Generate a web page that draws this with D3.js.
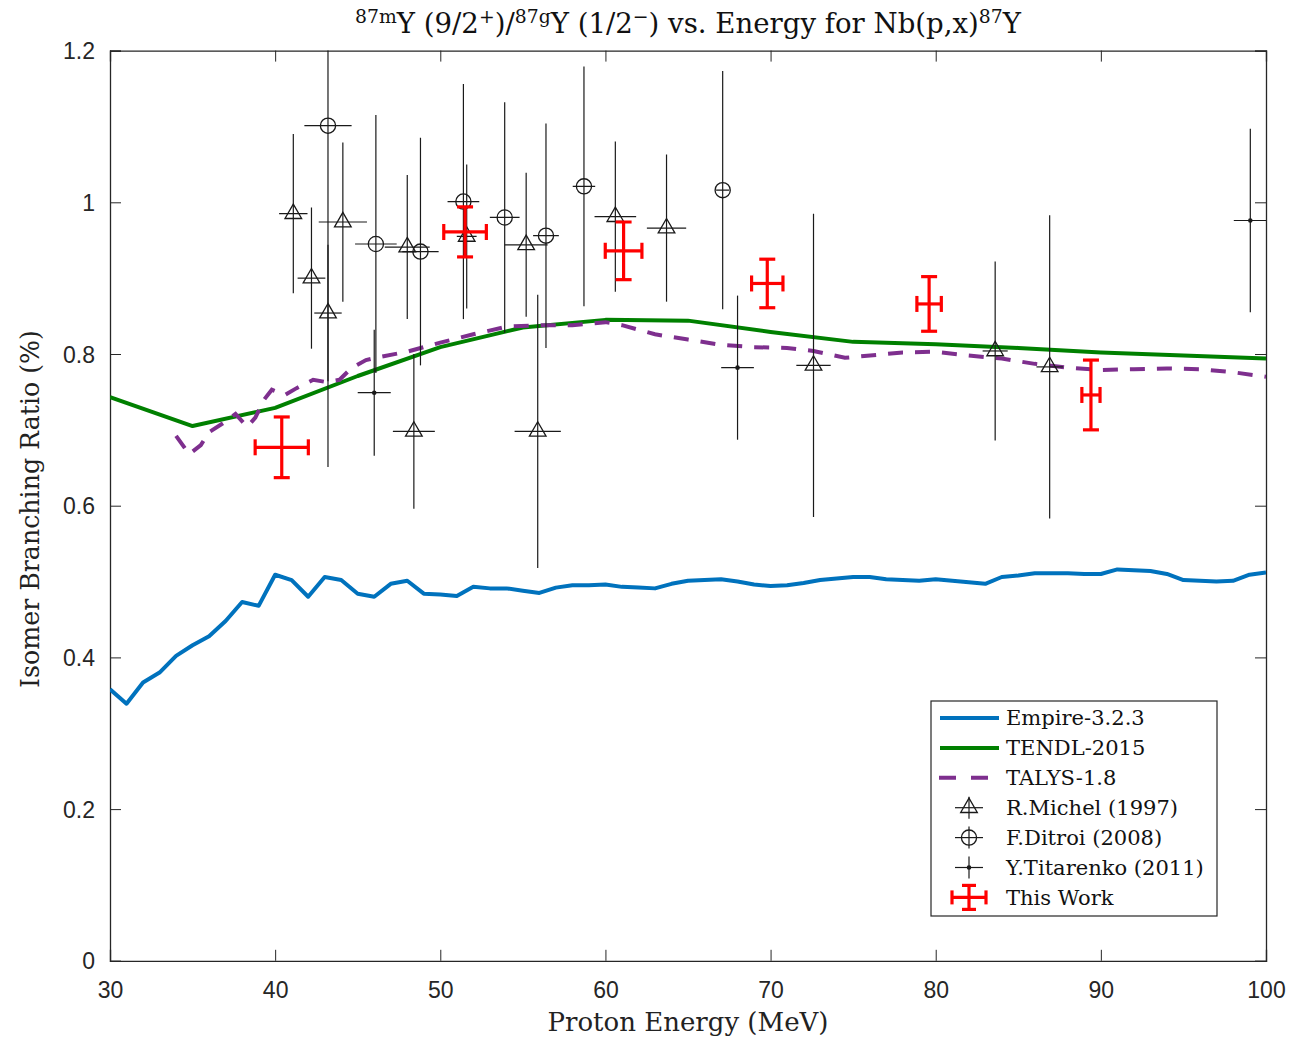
<!DOCTYPE html>
<html><head><meta charset="utf-8">
<script src="https://cdn.jsdelivr.net/npm/d3@7"></script>
<style>body{margin:0;background:#fff}</style>
</head><body>
<svg id="chart" width="1289" height="1040"></svg>
<script>
// ---- data ----
const empireE = d3.range(30, 101, 1);
const empireR = [0.358,0.339,0.367,0.380,0.402,0.416,0.428,0.448,0.473,0.468,
  0.509,0.502,0.480,0.506,0.502,0.484,0.480,0.497,0.501,0.484,
  0.483,0.481,0.493,0.491,0.491,0.488,0.485,0.492,0.495,0.495,
  0.496,0.493,0.492,0.491,0.497,0.501,0.502,0.503,0.500,0.496,
  0.494,0.495,0.498,0.502,0.504,0.506,0.506,0.503,0.502,0.501,
  0.503,0.501,0.499,0.497,0.506,0.508,0.511,0.511,0.511,0.510,
  0.510,0.516,0.515,0.514,0.510,0.502,0.501,0.500,0.501,0.509,0.512];

const tendlE = [30,35,40,45,50,55,60,65,70,75,80,85,90,95,100];
const tendlR = [0.743,0.705,0.729,0.771,0.809,0.835,0.845,0.844,0.829,0.816,0.813,0.808,0.802,0.798,0.794];

const talysE = [34,34.8,35.5,36,37,37.6,38.3,38.8,39.3,39.8,40.6,41.3,42.3,43.1,43.9,44.6,45.5,46.3,48,50,52,54,56,58,60,61,63,65,67,69,71,72.6,74.5,76.5,78,80,82,84,86,88,90,92,94,96,98,100];
const talysR = [0.692,0.668,0.680,0.697,0.711,0.721,0.704,0.716,0.739,0.753,0.746,0.755,0.766,0.763,0.766,0.781,0.792,0.796,0.803,0.815,0.826,0.836,0.838,0.838,0.842,0.838,0.826,0.819,0.812,0.809,0.808,0.804,0.795,0.799,0.802,0.803,0.798,0.794,0.787,0.782,0.779,0.780,0.781,0.780,0.776,0.770];

const michelE  = [41.1,42.2,43.2,44.1,48.0,48.4,51.6,55.2,55.9,60.6,63.7,72.6,83.6,86.9];
const michelR  = [0.985,0.900,0.854,0.974,0.941,0.698,0.955,0.944,0.698,0.981,0.966,0.785,0.804,0.783];
const michelDR = [0.105,0.093,0.090,0.105,0.095,0.102,0.095,0.095,0.180,0.099,0.097,0.200,0.118,0.200];
const michelDE = [0.86,0.84,0.83,1.46,1.36,1.27,0.60,1.30,1.40,1.26,1.19,1.04,0.76,0.80];

const ditroiE  = [43.2,46.1,48.8,51.4,53.9,56.4,58.7,67.1];
const ditroiR  = [1.101,0.945,0.935,1.001,0.980,0.956,1.021,1.016];
const ditroiDR = [0.450,0.170,0.150,0.155,0.152,0.148,0.158,0.157];
const ditroiDE = [1.43,1.26,1.10,0.96,0.90,0.78,0.68,0.40];

const titarE  = [46.0,68.0,99.05];
const titarR  = [0.749,0.782,0.976];
const titarDR = [0.083,0.095,0.121];
const titarDE = [1.0,0.99,1.0];

const workE  = [40.4,51.5,61.1,69.8,79.6,89.4];
const workR  = [0.677,0.961,0.936,0.893,0.866,0.746];
const workDR = [0.040,0.033,0.038,0.032,0.036,0.046];
const workDE = [1.61,1.29,1.11,0.95,0.74,0.55];

const xTicks = [30,40,50,60,70,80,90,100];
const yTicks = [0,0.2,0.4,0.6,0.8,1,1.2];
const legendLabels = ["Empire-3.2.3","TENDL-2015","TALYS-1.8","R.Michel (1997)","F.Ditroi (2008)","Y.Titarenko (2011)","This Work"];

// ---- layout ----
const svg = d3.select("#chart");
const L = 110, R = 1266, T = 50.6, B = 960.8;
const x = d3.scaleLinear().domain([30,100]).range([L,R]);
const y = d3.scaleLinear().domain([0,1.2]).range([B,T]);
const serif = "'DejaVu Serif', 'Liberation Serif', serif";
const sans = "'Liberation Sans', Arial, sans-serif";
const C = {blue:"#0072BD", green:"#008000", purple:"#7E2F8E", red:"#FF0000", black:"#1a1a1a"};

// scale a text's font size so its rendered width matches a target width
function fit(sel, target){
  const n = sel.node();
  const w = n.getBBox().width;
  const fs = parseFloat(sel.attr("font-size"));
  sel.attr("font-size", fs*target/w);
  sel.selectAll("tspan").each(function(){
    const t = d3.select(this); const f = t.attr("font-size");
    if (f) t.attr("font-size", parseFloat(f)*target/w);
  });
}

svg.append("defs").append("clipPath").attr("id","clip")
  .append("rect").attr("x",L).attr("y",T).attr("width",R-L).attr("height",B-T);

// axes with inward ticks
const axCol = "#262626";
const gB = svg.append("g").attr("transform",`translate(0,${B})`)
  .call(d3.axisBottom(x).tickValues(xTicks).tickSize(-11).tickPadding(21).tickFormat(d3.format("d")));
const gT = svg.append("g").attr("transform",`translate(0,${T})`)
  .call(d3.axisTop(x).tickValues(xTicks).tickSize(-11).tickFormat(""));
const gL = svg.append("g").attr("transform",`translate(${L},0)`)
  .call(d3.axisLeft(y).tickValues(yTicks).tickSize(-11).tickPadding(15).tickFormat(d => d===0?"0":(d===1?"1":d3.format(".1f")(d))));
const gR = svg.append("g").attr("transform",`translate(${R},0)`)
  .call(d3.axisRight(y).tickValues(yTicks).tickSize(-11).tickFormat(""));
[gB,gT,gL,gR].forEach(g=>{
  g.select(".domain").attr("stroke",axCol).attr("stroke-width",1.3);
  g.selectAll(".tick line").attr("stroke",axCol).attr("stroke-width",1);
  g.selectAll("text").attr("font-family",sans).attr("font-size",23).attr("fill","#262626");
});
gL.selectAll("text").attr("dy","0.35em");

const plot = svg.append("g").attr("clip-path","url(#clip)");

// model lines
const line = (E,Rr) => d3.line().x((d,i)=>x(E[i])).y((d,i)=>y(Rr[i]))(E);
plot.append("path").attr("d",line(empireE,empireR)).attr("fill","none").attr("stroke",C.blue).attr("stroke-width",4).attr("stroke-linejoin","round");
plot.append("path").attr("d",line(tendlE,tendlR)).attr("fill","none").attr("stroke",C.green).attr("stroke-width",4).attr("stroke-linejoin","round");
plot.append("path").attr("d",line(talysE,talysR)).attr("fill","none").attr("stroke",C.purple).attr("stroke-width",4).attr("stroke-dasharray","15,12");

// black error bars
function blackBars(E,Rr,DR,DE){
  const g = plot.append("g").attr("stroke",C.black).attr("stroke-width",1.2);
  E.forEach((e,i)=>{
    g.append("line").attr("x1",x(e)).attr("x2",x(e)).attr("y1",y(Rr[i]-DR[i])).attr("y2",y(Rr[i]+DR[i]));
    g.append("line").attr("x1",x(e-DE[i])).attr("x2",x(e+DE[i])).attr("y1",y(Rr[i])).attr("y2",y(Rr[i]));
  });
}
blackBars(michelE,michelR,michelDR,michelDE);
blackBars(ditroiE,ditroiR,ditroiDR,ditroiDE);
blackBars(titarE,titarR,titarDR,titarDE);

const tri = d3.symbol().type(d3.symbolTriangle).size(120);
plot.append("g").selectAll("path").data(michelE).join("path")
  .attr("d",tri).attr("transform",(d,i)=>`translate(${x(d)},${y(michelR[i])})`)
  .attr("fill","none").attr("stroke",C.black).attr("stroke-width",1.3);
plot.append("g").selectAll("circle").data(ditroiE).join("circle")
  .attr("cx",d=>x(d)).attr("cy",(d,i)=>y(ditroiR[i])).attr("r",7.6)
  .attr("fill","none").attr("stroke",C.black).attr("stroke-width",1.3);
plot.append("g").selectAll("circle").data(titarE).join("circle")
  .attr("cx",d=>x(d)).attr("cy",(d,i)=>y(titarR[i])).attr("r",2.3).attr("fill",C.black);

// red error bars with caps
const cap = 8;
const rg = plot.append("g").attr("stroke",C.red).attr("stroke-width",3.2).attr("fill","none");
workE.forEach((e,i)=>{
  const cx = x(e), cy = y(workR[i]);
  const y0 = y(workR[i]-workDR[i]), y1 = y(workR[i]+workDR[i]);
  const x0 = x(e-workDE[i]), x1 = x(e+workDE[i]);
  rg.append("line").attr("x1",cx).attr("x2",cx).attr("y1",y0).attr("y2",y1);
  rg.append("line").attr("x1",cx-cap).attr("x2",cx+cap).attr("y1",y0).attr("y2",y0);
  rg.append("line").attr("x1",cx-cap).attr("x2",cx+cap).attr("y1",y1).attr("y2",y1);
  rg.append("line").attr("x1",x0).attr("x2",x1).attr("y1",cy).attr("y2",cy);
  rg.append("line").attr("x1",x0).attr("x2",x0).attr("y1",cy-cap).attr("y2",cy+cap);
  rg.append("line").attr("x1",x1).attr("x2",x1).attr("y1",cy-cap).attr("y2",cy+cap);
});

// title
const title = svg.append("text").attr("x",688).attr("y",33).attr("text-anchor","middle")
  .attr("font-family",serif).attr("font-size",22).attr("fill","#111");
const sup = (t)=>title.append("tspan").attr("baseline-shift","super").attr("font-size",15).text(t);
const nor = (t)=>title.append("tspan").text(t);
sup("87m"); nor("Y (9/2"); sup("+"); nor(")/"); sup("87g"); nor("Y (1/2"); sup("\u2212"); nor(") vs. Energy for Nb(p,x)"); sup("87"); nor("Y");
fit(title, 667);

// axis labels
const xl = svg.append("text").attr("x",688).attr("y",1031).attr("text-anchor","middle")
  .attr("font-family",serif).attr("font-size",22).attr("fill","#222").text("Proton Energy (MeV)");
fit(xl, 281);
const yl = svg.append("text").attr("transform","translate(39,509) rotate(-90)").attr("text-anchor","middle")
  .attr("font-family",serif).attr("font-size",22).attr("fill","#222").text("Isomer Branching Ratio (%)");
fit(yl, 358);

// legend
const lg = svg.append("g");
lg.append("rect").attr("x",931).attr("y",701).attr("width",286).attr("height",215)
  .attr("fill","#fff").attr("stroke","#262626").attr("stroke-width",1.2);
const ly = i => 718 + i*29.9;
const lt = legendLabels.map((t,i)=>
  lg.append("text").attr("x",1006).attr("y",ly(i)).attr("dy","0.35em")
    .attr("font-family",serif).attr("font-size",20).attr("fill","#111").text(t));
{
  const w = lt[5].node().getBBox().width;
  const fs = 20*199/w;
  lt.forEach(s=>s.attr("font-size",fs));
}
lg.append("line").attr("x1",940).attr("x2",999).attr("y1",ly(0)).attr("y2",ly(0)).attr("stroke",C.blue).attr("stroke-width",4);
lg.append("line").attr("x1",940).attr("x2",999).attr("y1",ly(1)).attr("y2",ly(1)).attr("stroke",C.green).attr("stroke-width",4);
lg.append("line").attr("x1",939).attr("x2",988).attr("y1",ly(2)).attr("y2",ly(2)).attr("stroke",C.purple).attr("stroke-width",4).attr("stroke-dasharray","17,15");
[3,4,5].forEach(i=>{
  lg.append("line").attr("x1",955).attr("x2",983).attr("y1",ly(i)).attr("y2",ly(i)).attr("stroke",C.black).attr("stroke-width",1.2);
  lg.append("line").attr("x1",969).attr("x2",969).attr("y1",ly(i)-11).attr("y2",ly(i)+11).attr("stroke",C.black).attr("stroke-width",1.2);
});
lg.append("path").attr("d",tri).attr("transform",`translate(969,${ly(3)})`).attr("fill","none").attr("stroke",C.black).attr("stroke-width",1.3);
lg.append("circle").attr("cx",969).attr("cy",ly(4)).attr("r",7.6).attr("fill","none").attr("stroke",C.black).attr("stroke-width",1.3);
lg.append("circle").attr("cx",969).attr("cy",ly(5)).attr("r",2.3).attr("fill",C.black);
{
  const cy = ly(6), cx = 969;
  const g = lg.append("g").attr("stroke",C.red).attr("stroke-width",3.2);
  g.append("line").attr("x1",cx).attr("x2",cx).attr("y1",cy-12).attr("y2",cy+12);
  g.append("line").attr("x1",cx-7).attr("x2",cx+7).attr("y1",cy-12).attr("y2",cy-12);
  g.append("line").attr("x1",cx-7).attr("x2",cx+7).attr("y1",cy+12).attr("y2",cy+12);
  g.append("line").attr("x1",cx-17).attr("x2",cx+17).attr("y1",cy).attr("y2",cy);
  g.append("line").attr("x1",cx-17).attr("x2",cx-17).attr("y1",cy-7).attr("y2",cy+7);
  g.append("line").attr("x1",cx+17).attr("x2",cx+17).attr("y1",cy-7).attr("y2",cy+7);
}
</script>
</body></html>
